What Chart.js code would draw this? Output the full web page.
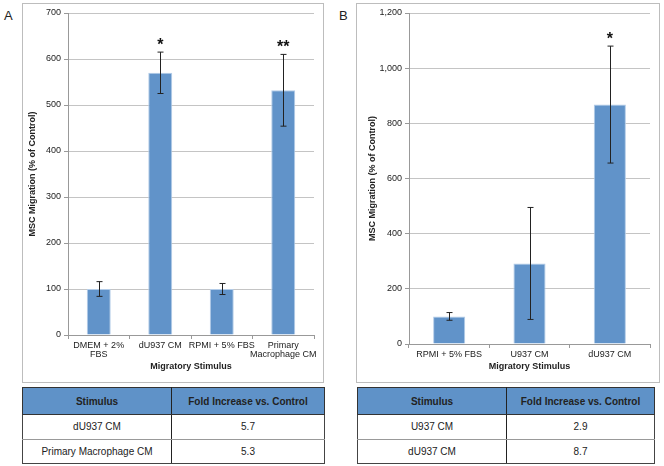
<!DOCTYPE html>
<html>
<head>
<meta charset="utf-8">
<script src="https://cdn.jsdelivr.net/npm/chart.js@4.4.1/dist/chart.umd.min.js"></script>
<style>
  body { margin:0; width:664px; height:466px; background:#fff; position:relative; font-family:'Liberation Sans', Arial, sans-serif; color:#222; }
  .lbl { position:absolute; font-size:13px; }
  .box { position:absolute; border:1px solid #bdbdbd; }
  table { position:absolute; border-collapse:collapse; font-size:10px; text-align:center; }
  th, td { padding:0; }
  th { background:#5f92c8; height:26px; border:1px solid #333; font-weight:bold; }
  td { height:23.5px; border:1px solid #999; }
  td:first-child, th:first-child { border-right:1px solid #222; }
  tr:last-child td { border-bottom:1px solid #444; }
  td:first-child { border-left:1px solid #444; }
  td:last-child { border-right:1px solid #444; }
</style>
</head>
<body>
<div class="lbl" style="left:4px;top:8px">A</div>
<div class="lbl" style="left:339px;top:8px">B</div>
<div class="box" style="left:22px;top:3px;width:300px;height:378px"><canvas id="ca"></canvas></div>
<div class="box" style="left:356px;top:3px;width:302px;height:378px"><canvas id="cb"></canvas></div>

<table id="ta" style="left:22px;top:387px;width:303px">
  <tr><th style="width:148px">Stimulus</th><th>Fold Increase vs. Control</th></tr>
</table>
<table id="tb" style="left:357px;top:387px;width:298px">
  <tr><th style="width:148px">Stimulus</th><th>Fold Increase vs. Control</th></tr>
</table>

<script>
// panel A
const catsA = [['DMEM + 2%','FBS'], 'dU937 CM', 'RPMI + 5% FBS', ['Primary','Macrophage CM']];
const valsA = [100, 570, 100, 532];
const errA = [16, 45, 12, 78];
const sigA = ['', '*', '', '**'];
// panel B
const catsB = ['RPMI + 5% FBS', 'U937 CM', 'dU937 CM'];
const valsB = [100, 292, 868];
const errB = [14, 203, 212];
const sigB = ['', '', '*'];
// tables
const tabA = [['dU937 CM','5.7'], ['Primary Macrophage CM','5.3']];
const tabB = [['U937 CM','2.9'], ['dU937 CM','8.7']];

function fillTable(id, rows) {
  const t = document.getElementById(id);
  rows.forEach(r => {
    const tr = document.createElement('tr');
    r.forEach(c => { const td = document.createElement('td'); td.textContent = c; tr.appendChild(td); });
    t.appendChild(tr);
  });
}
fillTable('ta', tabA);
fillTable('tb', tabB);

Chart.defaults.font.family = "'Liberation Sans', Arial, sans-serif";
Chart.defaults.color = '#222';

const errPlugin = {
  id: 'errbars',
  afterDatasetsDraw(chart, args, opts) {
    const ctx = chart.ctx, y = chart.scales.y;
    const meta = chart.getDatasetMeta(0);
    ctx.save();
    ctx.strokeStyle = '#222';
    ctx.lineWidth = 1;
    meta.data.forEach((bar, i) => {
      const v = opts.vals[i], e = opts.errs[i];
      const x = Math.round(bar.x) + 0.5;
      const yt = y.getPixelForValue(v + e), yb = y.getPixelForValue(v - e);
      ctx.beginPath();
      ctx.moveTo(x, yt); ctx.lineTo(x, yb);
      ctx.moveTo(x - 3, yt); ctx.lineTo(x + 3, yt);
      ctx.moveTo(x - 3, yb); ctx.lineTo(x + 3, yb);
      ctx.stroke();
      if (opts.sig[i]) {
        ctx.fillStyle = '#111';
        ctx.font = "bold 16px 'Liberation Sans', Arial, sans-serif";
        ctx.textAlign = 'center';
        ctx.textBaseline = 'alphabetic';
        ctx.fillText(opts.sig[i], bar.x, yt - 2);
      }
    });
    ctx.restore();
  }
};

function makeChart(id, cats, vals, errs, sig, max, step, yw, xh, ytp, barPct) {
  return new Chart(document.getElementById(id), {
    type: 'bar',
    data: { labels: cats, datasets: [{ data: vals, backgroundColor: '#6193c9', borderColor: '#b3cce8', borderWidth: 1, categoryPercentage: 1, barPercentage: barPct }] },
    options: {
      responsive: true, maintainAspectRatio: false, animation: false,
      layout: { padding: { top: 9, right: 9, left: 0, bottom: 0 } },
      plugins: { legend: { display: false }, tooltip: { enabled: false }, errbars: { vals: vals, errs: errs, sig: sig } },
      scales: {
        x: {
          grid: { drawOnChartArea: false, drawTicks: true, tickLength: 4, color: '#999' },
          border: { color: '#999' },
          ticks: { font: { size: 9, lineHeight: 1.0 }, padding: 2, maxRotation: 0, autoSkip: false, color: '#222' },
          title: { display: true, text: 'Migratory Stimulus', font: { size: 9, weight: 'bold' }, padding: { top: 0, bottom: 9.6 }, color: '#222' },
          afterFit(s) { s.height = xh; }
        },
        y: {
          min: 0, max: max,
          grid: { color: '#c4c4c4', tickLength: 4, tickColor: '#999' },
          border: { color: '#999' },
          ticks: { stepSize: step, font: { size: 9 }, padding: 3, color: '#222' },
          title: { display: true, text: 'MSC Migration (% of Control)', font: { size: 9, weight: 'bold' }, padding: { top: ytp, bottom: 0 }, color: '#222' },
          afterFit(s) { s.width = yw; }
        }
      }
    },
    plugins: [errPlugin]
  });
}

makeChart('ca', catsA, valsA, errA, sigA, 700, 100, 45, 47, 4.6, 0.39);
makeChart('cb', catsB, valsB, errB, sigB, 1200, 200, 52, 38, 10.6, 0.4);
</script>
</body>
</html>
